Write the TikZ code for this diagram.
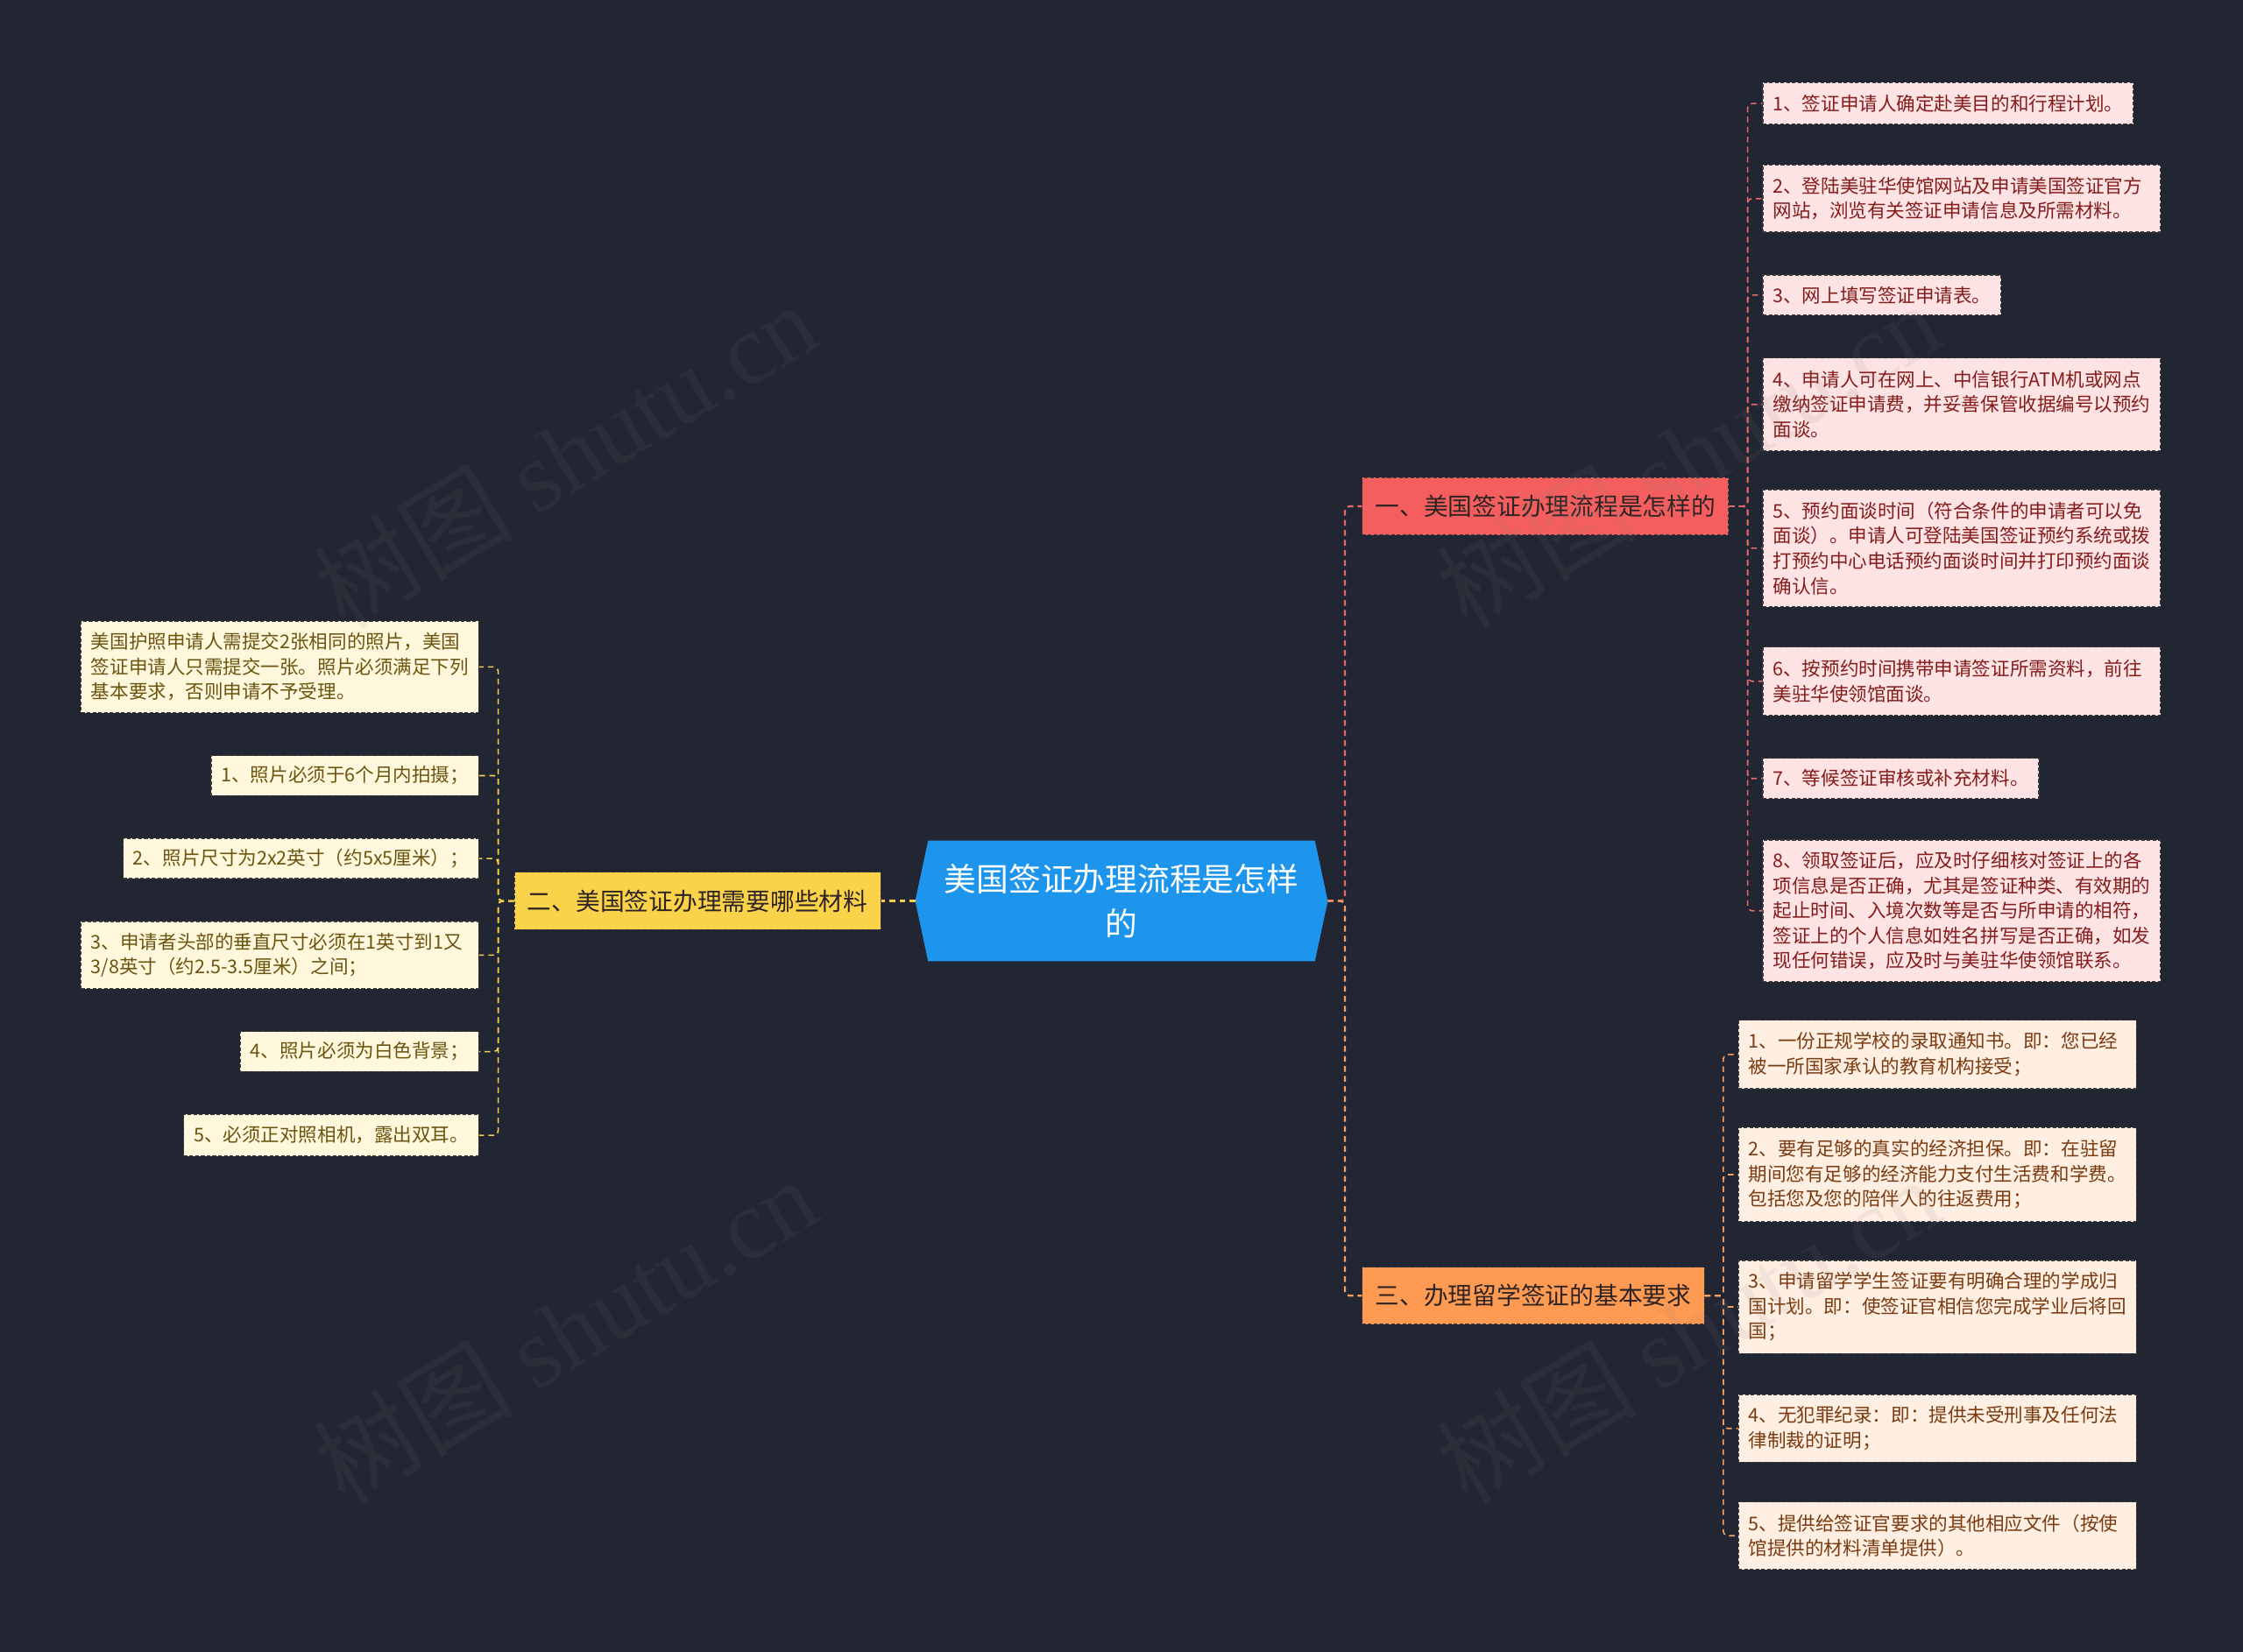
\documentclass[tikz,border=0pt]{standalone}
\usepackage{fontspec}
\setmainfont{Noto Sans CJK SC}
\newfontfamily\wmserif{Liberation Serif}
\usetikzlibrary{backgrounds}
\definecolor{bgc}{HTML}{222532}
\definecolor{cblue}{HTML}{1D95EC}
\definecolor{b1fill}{HTML}{F45E5E}
\definecolor{b2fill}{HTML}{FBD34A}
\definecolor{b3fill}{HTML}{FF9A52}
\definecolor{rfill}{HTML}{FDE3E3}
\definecolor{rtext}{HTML}{851C1C}
\definecolor{ofill}{HTML}{FFEEE2}
\definecolor{otext}{HTML}{7A3B10}
\definecolor{yfill}{HTML}{FFF8DC}
\definecolor{ytext}{HTML}{6B5410}
\definecolor{btext}{HTML}{2E2424}
\definecolor{bord}{HTML}{3A3A3A}
\definecolor{conR}{HTML}{E46A6A}
\definecolor{conY}{HTML}{F5CF4B}
\definecolor{conO}{HTML}{F5A060}
\newcommand\leaffnt{\fontsize{13.2pt}{17.5pt}\selectfont}
\newcommand\branchfnt{\fontsize{17pt}{20pt}\selectfont}
\newcommand\centerfnt{\fontsize{22.5pt}{31pt}\selectfont}
\tikzset{
  boxbase/.style={rectangle, draw=bord, dash pattern=on 2.5pt off 1.5pt, line width=0.7pt},
  leafbox/.style={boxbase, font=\leaffnt, inner xsep=7pt, inner ysep=1pt, align=left},
  leafR/.style={leafbox, fill=rfill, text=rtext},
  leafO/.style={leafbox, fill=ofill, text=otext},
  leafY/.style={leafbox, fill=yfill, text=ytext},
  multiline/.style={text width=264pt},
  bh/.style={minimum height=#1},
  branchbox/.style={boxbase, font=\branchfnt, text=btext, inner xsep=9pt, minimum height=40pt},
  con/.style={draw=#1, line width=1pt, dash pattern=on 4pt off 3pt, rounded corners=3pt},
  trunk/.style={draw=#1, line width=1.4pt, dash pattern=on 4pt off 3pt, rounded corners=3pt},
  wm/.style={rotate=31, text=gray, opacity=0.1, font=\fontsize{70pt}{70pt}\selectfont}
}
\begin{document}
\begin{tikzpicture}[x=1pt,y=-1pt]
\useasboundingbox (0,0) rectangle (1568,1155);

% central node
\node[font=\centerfnt, text=white, minimum width=270pt, minimum height=84pt, align=center, inner sep=0pt] (c) at (784,630) {美国签证办理流程是怎样\\的};
\begin{scope}[on background layer]
  \fill[bgc] (0,0) rectangle (1568,1155);
  \fill[cblue] ([xshift=-9pt]c.west) -- (c.north west) -- (c.north east) -- ([xshift=9pt]c.east) -- (c.south east) -- (c.south west) -- cycle;
\end{scope}

% branches
\node[branchbox, fill=b1fill, anchor=west] (b1) at (952,354) {一、美国签证办理流程是怎样的};
\node[branchbox, fill=b2fill, anchor=east] (b2) at (616,630) {二、美国签证办理需要哪些材料};
\node[branchbox, fill=b3fill, anchor=west] (b3) at (952,906) {三、办理留学签证的基本要求};

% group 1 leaves
\node[leafR, bh=29pt, anchor=north west] (r1) at (1232,57.5) {1、签证申请人确定赴美目的和行程计划。};
\node[leafR, multiline, bh=47pt, anchor=north west] (r2) at (1232,115) {2、登陆美驻华使馆网站及申请美国签证官方\\网站，浏览有关签证申请信息及所需材料。};
\node[leafR, bh=28pt, anchor=north west] (r3) at (1232,192) {3、网上填写签证申请表。};
\node[leafR, multiline, bh=65pt, anchor=north west] (r4) at (1232,250) {4、申请人可在网上、中信银行ATM机或网点\\缴纳签证申请费，并妥善保管收据编号以预约\\面谈。};
\node[leafR, multiline, bh=82pt, anchor=north west] (r5) at (1232,342) {5、预约面谈时间（符合条件的申请者可以免\\面谈）。申请人可登陆美国签证预约系统或拨\\打预约中心电话预约面谈时间并打印预约面谈\\确认信。};
\node[leafR, multiline, bh=48pt, anchor=north west] (r6) at (1232,452) {6、按预约时间携带申请签证所需资料，前往\\美驻华使领馆面谈。};
\node[leafR, bh=28pt, anchor=north west] (r7) at (1232,530) {7、等候签证审核或补充材料。};
\node[leafR, multiline, bh=99pt, anchor=north west] (r8) at (1232,587) {8、领取签证后，应及时仔细核对签证上的各\\项信息是否正确，尤其是签证种类、有效期的\\起止时间、入境次数等是否与所申请的相符，\\签证上的个人信息如姓名拼写是否正确，如发\\现任何错误，应及时与美驻华使领馆联系。};

% group 3 leaves
\node[leafO, multiline, bh=48pt, anchor=north west] (o1) at (1215,713) {1、一份正规学校的录取通知书。即：您已经\\被一所国家承认的教育机构接受；};
\node[leafO, multiline, bh=66pt, anchor=north west] (o2) at (1215,788) {2、要有足够的真实的经济担保。即：在驻留\\期间您有足够的经济能力支付生活费和学费。\\包括您及您的陪伴人的往返费用；};
\node[leafO, multiline, bh=65pt, anchor=north west] (o3) at (1215,881) {3、申请留学学生签证要有明确合理的学成归\\国计划。即：使签证官相信您完成学业后将回\\国；};
\node[leafO, multiline, bh=47pt, anchor=north west] (o4) at (1215,975) {4、无犯罪纪录：即：提供未受刑事及任何法\\律制裁的证明；};
\node[leafO, multiline, bh=47pt, anchor=north west] (o5) at (1215,1050) {5、提供给签证官要求的其他相应文件（按使\\馆提供的材料清单提供）。};

% group 2 leaves
\node[leafY, multiline, bh=64pt, anchor=north east] (y0) at (335,434) {美国护照申请人需提交2张相同的照片，美国\\签证申请人只需提交一张。照片必须满足下列\\基本要求，否则申请不予受理。};
\node[leafY, bh=28pt, anchor=north east] (y1) at (335,528) {1、照片必须于6个月内拍摄；};
\node[leafY, bh=28pt, anchor=north east] (y2) at (335,586) {2、照片尺寸为2x2英寸（约5x5厘米）；};
\node[leafY, multiline, bh=47pt, anchor=north east] (y3) at (335,644) {3、申请者头部的垂直尺寸必须在1英寸到1又\\3/8英寸（约2.5-3.5厘米）之间；};
\node[leafY, bh=28pt, anchor=north east] (y4) at (335,721) {4、照片必须为白色背景；};
\node[leafY, bh=29pt, anchor=north east] (y5) at (335,779) {5、必须正对照相机，露出双耳。};

% trunk connectors
\draw[trunk=conR] ([xshift=9pt]c.east) -- ++(12,0) |- (b1.west);
\draw[trunk=conO] ([xshift=9pt]c.east) -- ++(12,0) |- (b3.west);
\draw[trunk=conY] ([xshift=-9pt]c.west) -- (b2.east);

% leaf connectors
\foreach \n in {r1,r2,r3,r4,r5,r6,r7,r8}
  \draw[con=conR] (b1.east) -- ++(13,0) |- (\n.west);
\foreach \n in {o1,o2,o3,o4,o5}
  \draw[con=conO] (b3.east) -- ++(13,0) |- (\n.west);
\foreach \n in {y0,y1,y2,y3,y4,y5}
  \draw[con=conY] (b2.west) -- ++(-11,0) |- (\n.east);

% watermarks
\node[wm] (w1) at (395,318) {树图 {\wmserif shutu.cn}};
\node[wm] (w2) at (1180,318) {树图 {\wmserif shutu.cn}};
\node[wm] (w3) at (395,930) {树图 {\wmserif shutu.cn}};
\node[wm] (w4) at (1180,930) {树图 {\wmserif shutu.cn}};
\end{tikzpicture}
\end{document}
